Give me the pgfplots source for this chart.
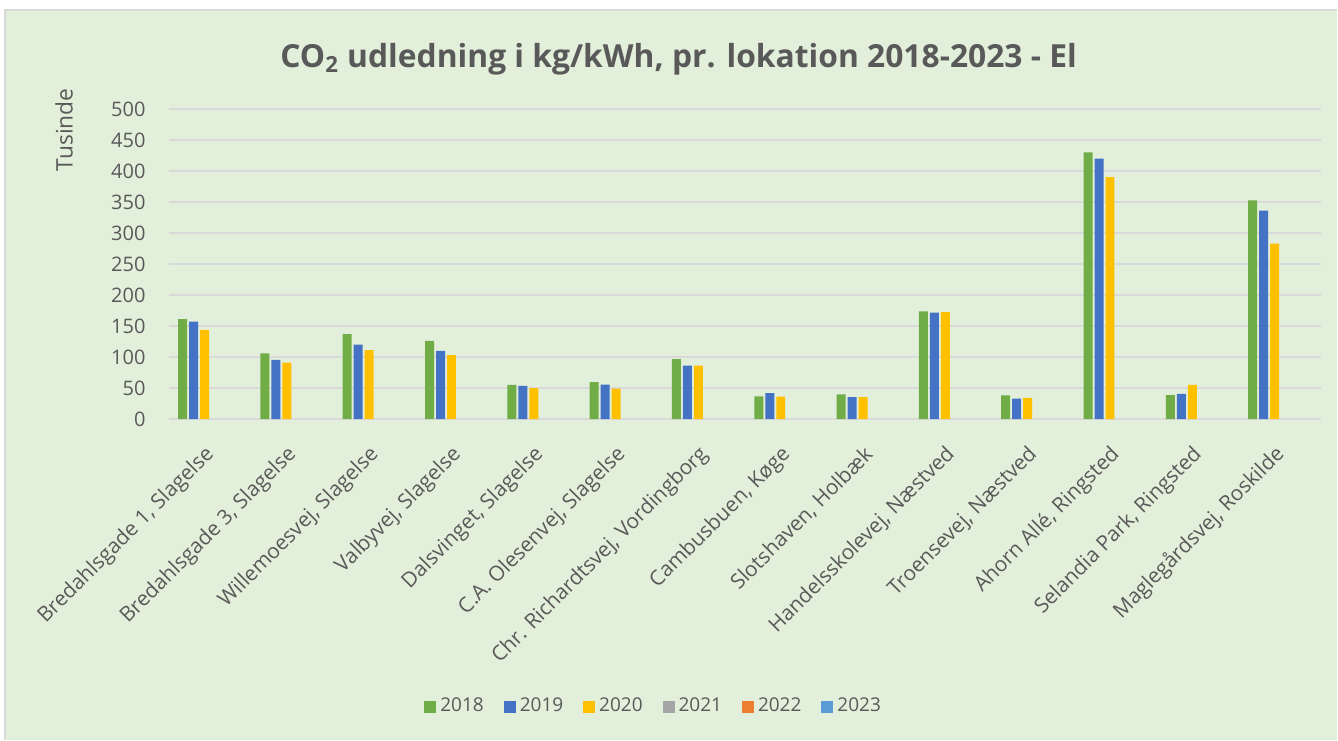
\documentclass[border=0pt]{standalone}
\usepackage{fontspec}
\setmainfont{Open Sans}
\usepackage{pgfplots}
\pgfplotsset{compat=1.18}
\definecolor{bg}{HTML}{E2EFDA}
\definecolor{txt}{HTML}{595959}
\definecolor{gridc}{HTML}{D9D9D9}
\definecolor{c18}{HTML}{70AD47}
\definecolor{c19}{HTML}{4472C4}
\definecolor{c20}{HTML}{FFC000}
\definecolor{c21}{HTML}{A5A5A5}
\definecolor{c22}{HTML}{ED7D31}
\definecolor{c23}{HTML}{5B9BD5}
\begin{document}
\begin{tikzpicture}
\fill[white] (0,0) rectangle (669pt,370pt);
\fill[bg] (2.5pt,0) rectangle (669pt,365pt);
\draw[gridc, line width=0.75pt] (2.5pt,0) -- (2.5pt,365pt) -- (669pt,365pt);
\node[text=txt, font=\fontsize{15.9}{18}\selectfont\bfseries] at (339.5pt,340.5pt) {CO\textsubscript{2} udledning i kg/kWh, pr. lokation 2018-2023 - El};
\node[text=txt, rotate=90, font=\fontsize{11.4}{13}\selectfont] at (32pt,305pt) {Tusinde};
\begin{axis}[
  at={(84.5pt,160.35pt)}, anchor=south west,
  scale only axis, width=576.5pt, height=155.15pt,
  xmin=-0.5, xmax=13.5, ymin=0, ymax=500,
  axis line style={draw=none},
  tick style={draw=none},
  ymajorgrids, major grid style={draw=gridc, line width=1pt},
  ytick={0,50,...,500},
  yticklabels={0,50,100,150,200,250,300,350,400,450,500},
  yticklabel style={anchor=east, inner sep=0pt, xshift=-11.5pt, text=txt, font=\fontsize{10}{12}\selectfont},
  xtick={0,...,13},
  xticklabels={{Bredahlsgade 1, Slagelse},{Bredahlsgade 3, Slagelse},{Willemoesvej, Slagelse},{Valbyvej, Slagelse},{Dalsvinget, Slagelse},{C.A. Olesenvej, Slagelse},{Chr. Richardtsvej, Vordingborg},{Cambusbuen, Køge},{Slotshaven, Holbæk},{Handelsskolevej, Næstved},{Troensevej, Næstved},{Ahorn Allé, Ringsted},{Selandia Park, Ringsted},{Maglegårdsvej, Roskilde}},
  xticklabel style={xshift=0.5pt, yshift=-16pt, rotate=45, anchor=east, inner sep=0pt, text=txt, font=\fontsize{10.4}{12}\selectfont},
  bar width=4.5pt,
  legend columns=6,
  legend style={at={(0.4215,-0.927)}, anchor=center, draw=none, fill=none, text=txt, font=\fontsize{9.5}{11}\selectfont,
    /tikz/every even column/.append style={column sep=8pt}},
  legend image code/.code={\path[#1,draw=none] (0pt,-3pt) rectangle (6pt,3pt);},
]
\addplot[ybar, bar shift=-13.75pt, fill=c18, draw=none] coordinates {(0,161) (1,106) (2,137) (3,126) (4,55) (5,59.5) (6,96.5) (7,36.5) (8,40) (9,173.5) (10,38) (11,430) (12,38.5) (13,352.5)};
\addlegendentry{2018}
\addplot[ybar, bar shift=-8.25pt, fill=c19, draw=none] coordinates {(0,157) (1,95.5) (2,120) (3,110) (4,53.5) (5,55.5) (6,86) (7,42) (8,35.5) (9,171.5) (10,33) (11,420) (12,40.5) (13,336)};
\addlegendentry{2019}
\addplot[ybar, bar shift=-2.75pt, fill=c20, draw=none] coordinates {(0,144) (1,91) (2,111) (3,103) (4,50) (5,49) (6,86) (7,36) (8,35.5) (9,172.5) (10,34) (11,390) (12,55) (13,283)};
\addlegendentry{2020}
\addlegendimage{fill=c21, draw=none}
\addlegendentry{2021}
\addlegendimage{fill=c22, draw=none}
\addlegendentry{2022}
\addlegendimage{fill=c23, draw=none}
\addlegendentry{2023}
\end{axis}
\end{tikzpicture}
\end{document}
